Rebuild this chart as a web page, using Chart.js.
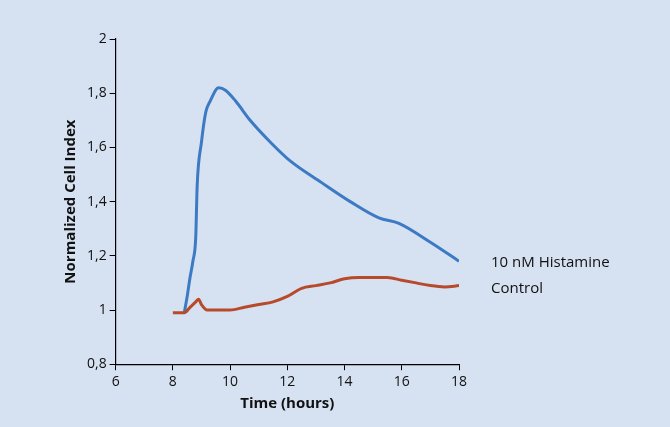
<!DOCTYPE html>
<html>
<head>
<script src="https://cdn.jsdelivr.net/npm/chart.js@4"></script>
<style>
body { margin: 0; background: #fff; }
#wrap { width: 670px; height: 427px; background: #d6e1f1; }
</style>
</head>
<body>
<div id="wrap"><canvas id="c" width="670" height="427"></canvas></div>
<script>
const histX = [8.4, 8.5, 8.6, 8.7, 8.8, 8.85, 9.0, 9.15, 9.3, 9.6, 9.85, 10.2, 10.7, 11.4, 12.1, 13.2, 14.2, 15.2, 15.9, 17.0, 18.0];
const histY = [0.99, 1.05, 1.12, 1.18, 1.27, 1.46, 1.62, 1.73, 1.77, 1.82, 1.81, 1.77, 1.70, 1.62, 1.55, 1.47, 1.40, 1.34, 1.32, 1.25, 1.18];
const ctrlX = [8.0, 8.4, 8.6, 8.8, 8.9, 9.0, 9.2, 9.5, 10.0, 10.5, 11.0, 11.5, 12.0, 12.5, 13.0, 13.5, 14.0, 14.5, 15.0, 15.5, 16.0, 16.5, 17.0, 17.5, 18.0];
const ctrlY = [0.99, 0.99, 1.01, 1.03, 1.04, 1.02, 1.0, 1.0, 1.0, 1.01, 1.02, 1.03, 1.05, 1.08, 1.09, 1.10, 1.115, 1.12, 1.12, 1.12, 1.11, 1.10, 1.09, 1.085, 1.09];
const seriesNames = ['10 nM Histamine', 'Control'];

const toPts = (xs, ys) => xs.map((x, i) => ({ x: x, y: ys[i] }));

const sideLabels = {
    id: 'sideLabels',
    afterDraw(chart) {
        const c = chart.ctx;
        c.save();
        c.fillStyle = '#111';
        c.font = '15px "Open Sans", sans-serif';
        c.textBaseline = 'middle';
        c.fillText(seriesNames[0], 491, 263);
        c.fillText(seriesNames[1], 491, 289);
        c.restore();
    }
};

const axisCommon = {
    grid: { drawOnChartArea: false, drawTicks: true, color: '#000', tickLength: 6 },
    border: { color: '#000', width: 1.2 },
    ticks: { color: '#111', font: { size: 14, family: 'Open Sans' } }
};

new Chart(document.getElementById('c'), {
    type: 'line',
    data: {
        datasets: [
            { data: toPts(ctrlX, ctrlY), borderColor: '#b84a2c', borderWidth: 3, pointRadius: 0, cubicInterpolationMode: 'monotone' },
            { data: toPts(histX, histY), borderColor: '#3c7bc4', borderWidth: 3, pointRadius: 0, cubicInterpolationMode: 'monotone' }
        ]
    },
    options: {
        responsive: false,
        animation: false,
        layout: { padding: { left: 58, right: 211, top: 39, bottom: 12 } },
        plugins: { legend: { display: false }, tooltip: { enabled: false } },
        scales: {
            x: {
                ...axisCommon,
                type: 'linear', min: 6, max: 18,
                ticks: { ...axisCommon.ticks, stepSize: 2 },
                title: { display: true, text: 'Time (hours)', color: '#111', font: { size: 15, weight: 'bold', family: 'Open Sans' }, padding: 2 }
            },
            y: {
                ...axisCommon,
                min: 0.8, max: 2,
                ticks: { ...axisCommon.ticks, stepSize: 0.2, callback: v => String(Math.round(v * 10) / 10).replace('.', ',') },
                title: { display: true, text: 'Normalized Cell Index', color: '#111', font: { size: 15, weight: 'bold', family: 'Open Sans' } }
            }
        }
    },
    plugins: [sideLabels]
});
</script>
</body>
</html>
